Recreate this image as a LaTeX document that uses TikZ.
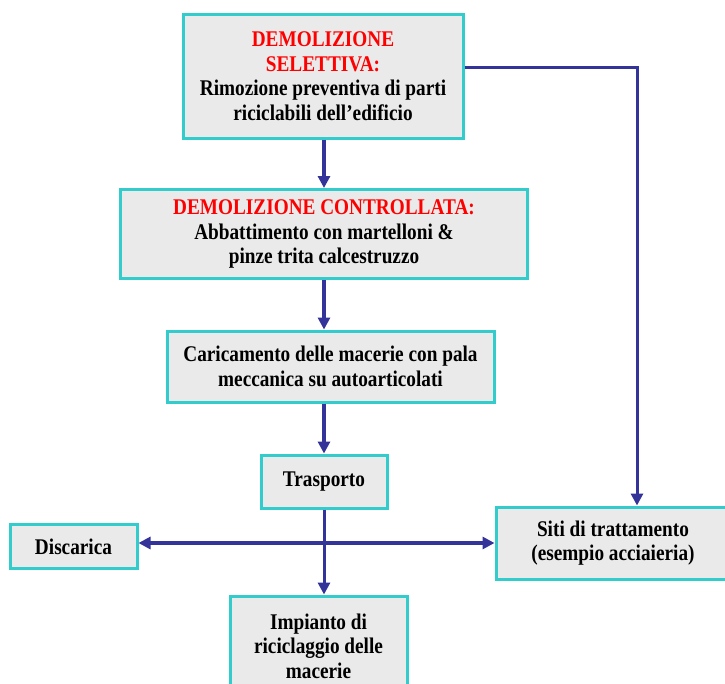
\documentclass[tikz,border=0pt]{standalone}
\usepackage{fontspec}
\setmainfont[FakeStretch=0.86]{Liberation Serif}
\usetikzlibrary{arrows.meta}
\definecolor{lineblue}{HTML}{333399}
\definecolor{boxborder}{HTML}{33CCCC}
\definecolor{boxfill}{HTML}{EAEAEA}
\definecolor{titlered}{HTML}{FF0000}
\tikzset{
  flowbox/.style={draw=boxborder, line width=3pt, fill=boxfill, align=center,
    font=\fontsize{22.4}{24.5}\selectfont\bfseries, inner sep=0pt},
  flowarrow/.style={draw=lineblue, line width=3.5pt, -{Triangle[width=12pt,length=12pt]}},
  flowline/.style={draw=lineblue, line width=3pt},
}
\begin{document}
\begin{tikzpicture}[x=1pt,y=-1pt]
\useasboundingbox (0,0) rectangle (725,683);
\clip (0,0) rectangle (725,683);
\node[flowbox, minimum width=280pt, minimum height=124pt] (sel) at (323,76)
  {\textcolor{titlered}{DEMOLIZIONE}\\\textcolor{titlered}{SELETTIVA:}\\Rimozione preventiva di parti\\riciclabili dell’edificio};
\node[flowbox, minimum width=407pt, minimum height=89pt] (con) at (324,234)
  {\textcolor{titlered}{DEMOLIZIONE CONTROLLATA:}\\Abbattimento con martelloni \&\\pinze trita calcestruzzo};
\node[flowbox, minimum width=327pt, minimum height=71pt] (car) at (330.5,366.5)
  {Caricamento delle macerie con pala\\meccanica su autoarticolati};
\node[flowbox, minimum width=126pt, minimum height=53pt] (tra) at (324,481.5)
  {Trasporto};
\node[flowbox, minimum width=127pt, minimum height=44pt] (dis) at (73.5,546.5)
  {Discarica};
\node[flowbox, minimum width=234pt, minimum height=72pt] (sit) at (613,543)
  {Siti di trattamento\\(esempio acciaieria)};
\node[flowbox, minimum width=177pt, minimum height=100pt] (imp) at (318.5,646)
  {Impianto di\\riciclaggio delle\\macerie};
\coordinate (cross) at (324,543);
\coordinate (corner) at (637,67);
\draw[flowarrow] (sel.south -| cross) -- (con.north -| cross);
\draw[flowarrow] (con.south -| cross) -- (car.north -| cross);
\draw[flowarrow] (car.south -| cross) -- (tra.north -| cross);
\draw[flowline] (tra.south -| cross) -- (cross);
\draw[flowarrow, line width=3pt] (cross) -- (imp.north -| cross);
\draw[flowarrow, line width=4pt] (cross) -- (dis.east |- cross);
\draw[flowarrow, line width=4pt] (cross) -- (sit.west |- cross);
\draw[flowarrow, line width=3pt] (sel.east |- corner) -- (corner) -- (sit.north -| corner);
\end{tikzpicture}
\end{document}
